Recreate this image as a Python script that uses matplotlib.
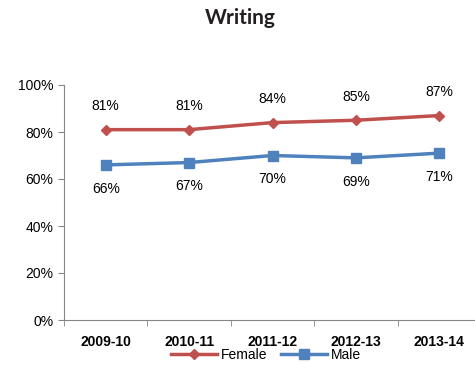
import matplotlib
matplotlib.use("Agg")
import matplotlib.pyplot as plt
from matplotlib.ticker import FuncFormatter

years = ["2009-10", "2010-11", "2011-12", "2012-13", "2013-14"]
female = [81, 81, 84, 85, 87]
male = [66, 67, 70, 69, 71]

plt.rcParams['font.family'] = ['Liberation Sans', 'DejaVu Sans']

fig = plt.figure(figsize=(4.75, 3.68), dpi=100)
ax = fig.add_axes([64/475, 48/368, 417/475, 235/368])

x = list(range(len(years)))
red = '#C0504D'
blue = '#4F81BD'
ax.plot(x, female, color=red, lw=2.5, marker='D', ms=5, label='Female', clip_on=False)
ax.plot(x, male, color=blue, lw=2.5, marker='s', ms=6.5, label='Male', clip_on=False)

for xi, v in zip(x, female):
    ax.annotate(f"{v}%", (xi, v), xytext=(0, 12), textcoords='offset points',
                ha='center', va='bottom', fontsize=10)
for xi, v in zip(x, male):
    ax.annotate(f"{v}%", (xi, v), xytext=(0, -12), textcoords='offset points',
                ha='center', va='top', fontsize=10)

ax.set_xlim(-0.5, 4.5)
ax.set_ylim(0, 100)
ax.set_yticks([0, 20, 40, 60, 80, 100])
ax.yaxis.set_major_formatter(FuncFormatter(lambda v, p: f"{int(v)}%"))
ax.set_xticks(x)
ax.set_xticklabels(years, fontweight='bold', fontsize=10)
ax.set_xticks([i - 0.5 for i in range(len(years) + 1)], minor=True)
ax.tick_params(axis='x', which='major', length=0, pad=11)
ax.tick_params(axis='x', which='minor', length=4, color='#868686')
ax.tick_params(axis='y', length=4, color='#868686', labelsize=10, direction='out')
for s in ['top', 'right']:
    ax.spines[s].set_visible(False)
for s in ['left', 'bottom']:
    ax.spines[s].set_color('#868686')

fig.text(240/475, 1 - 18/368, "Writing", ha='center', va='center',
         fontsize=15, fontweight='bold', family=['Lato', 'DejaVu Sans'], color='#231F20')

leg = fig.legend(loc='center', bbox_to_anchor=(266/475, 1 - 355/368), ncol=2,
                 frameon=False, fontsize=10, handlelength=3.3, columnspacing=1.0,
                 handletextpad=0.3, borderpad=0)

fig.savefig('out.png', dpi=100)
